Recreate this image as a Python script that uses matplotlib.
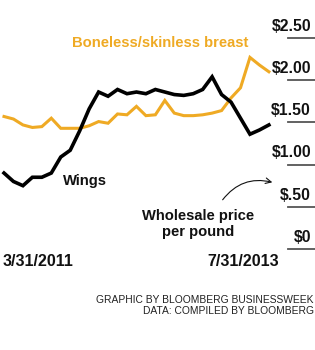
import matplotlib as mpl
import matplotlib.pyplot as plt

mpl.rcParams['font.family'] = ['Liberation Sans', 'DejaVu Sans']

# monthly wholesale prices, 3/31/2011 .. 7/31/2013 ($ per pound)
months = list(range(29))
wings = [0.90, 0.80, 0.75, 0.85, 0.85, 0.90, 1.09, 1.17, 1.40, 1.66,
         1.86, 1.81, 1.89, 1.84, 1.86, 1.84, 1.89, 1.86, 1.83, 1.82,
         1.84, 1.89, 2.04, 1.83, 1.74, 1.55, 1.36, 1.41, 1.47]
breast = [1.57, 1.54, 1.47, 1.44, 1.45, 1.55, 1.43, 1.43, 1.43, 1.46,
          1.51, 1.49, 1.60, 1.59, 1.69, 1.58, 1.59, 1.76, 1.61, 1.58,
          1.58, 1.59, 1.61, 1.64, 1.79, 1.91, 2.27, 2.18, 2.10]
yticks = [0, 0.5, 1.0, 1.5, 2.0, 2.5]
ytick_labels = ['$0', '$.50', '$1.00', '$1.50', '$2.00', '$2.50']
date_labels = ['3/31/2011', '7/31/2013']

ORANGE = '#EFAA24'

fig = plt.figure(figsize=(3.15, 3.5), dpi=100)
ax = fig.add_axes([0, 0, 1, 1])
ax.set_xlim((0 - 4) / 9.46, (315 - 4) / 9.46)
ax.set_ylim((249 - 350) / 84.4, 249 / 84.4)
ax.axis('off')

# right side tick segments + labels
for v, lab in zip(yticks, ytick_labels):
    ax.axhline(v, xmin=288 / 315, xmax=1, color='#555555', linewidth=1.3)
    ax.annotate(lab, xy=(311 / 315, v), xycoords=('axes fraction', 'data'),
                xytext=(0, 3), textcoords='offset points',
                ha='right', va='bottom', fontsize=11.3, fontweight='bold',
                color='#111111')

ax.plot(months, breast, color=ORANGE, linewidth=2.2, solid_joinstyle='miter')
ax.plot(months, wings, color='black', linewidth=2.6, solid_joinstyle='miter')

ax.text(72 / 315, 1 - 43 / 350, 'Boneless/skinless breast', transform=ax.transAxes,
        ha='left', va='center', fontsize=10.6, fontweight='bold', color=ORANGE)
ax.text(63 / 315, 1 - 181 / 350, 'Wings', transform=ax.transAxes,
        ha='left', va='center', fontsize=10.6, fontweight='bold', color='#111111')
ax.text(198 / 315, 1 - 224 / 350, 'Wholesale price\nper pound', transform=ax.transAxes,
        ha='center', va='center', fontsize=10.6, fontweight='bold', color='#111111',
        linespacing=1.1)

# curved arrow pointing to the axis
ax.annotate('', xy=(275 / 315, 1 - 183 / 350), xycoords='axes fraction',
            xytext=(221 / 315, 1 - 202 / 350), textcoords='axes fraction',
            arrowprops=dict(arrowstyle='->', color='#111111', linewidth=0.8,
                            connectionstyle='arc3,rad=-0.35'))

ax.text(3 / 315, 1 - 261 / 350, date_labels[0], transform=ax.transAxes,
        ha='left', va='center', fontsize=11.5, fontweight='bold', color='#111111')
ax.text(279 / 315, 1 - 261 / 350, date_labels[1], transform=ax.transAxes,
        ha='right', va='center', fontsize=11.5, fontweight='bold', color='#111111')

ax.text(314 / 315, 1 - 300 / 350, 'GRAPHIC BY BLOOMBERG BUSINESSWEEK', transform=ax.transAxes,
        ha='right', va='center', fontsize=7.4, color='#222222')
ax.text(314 / 315, 1 - 311 / 350, 'DATA: COMPILED BY BLOOMBERG', transform=ax.transAxes,
        ha='right', va='center', fontsize=7.4, color='#222222')

fig.savefig('out.png', dpi=100)
